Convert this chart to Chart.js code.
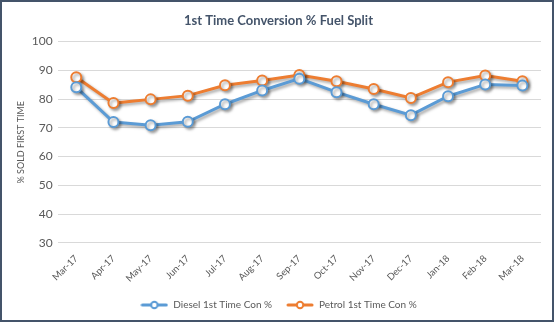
<!DOCTYPE html>
<html>
<head>
<meta charset="utf-8">
<script src="https://cdn.jsdelivr.net/npm/chart.js@4"></script>
<style>
  html, body { margin: 0; padding: 0; background: #fff; }
  #wrap {
    position: absolute; left: 0; top: 0;
    width: 554px; height: 322px;
    box-sizing: border-box;
    border: 2px solid #44546A;
  }
  canvas { display: block; }
</style>
</head>
<body>
<div id="wrap"><canvas id="chart" width="550" height="318"></canvas></div>
<script>
const months = ["Mar-17", "Apr-17", "May-17", "Jun-17", "Jul-17", "Aug-17", "Sep-17",
  "Oct-17", "Nov-17", "Dec-17", "Jan-18", "Feb-18", "Mar-18"];
const diesel = [84.1, 72.0, 70.9, 72.1, 78.2, 83.0, 87.1, 82.4, 78.2, 74.4, 81.0, 85.1, 84.7];
const petrol = [87.6, 78.6, 79.9, 81.2, 84.8, 86.5, 88.4, 86.2, 83.5, 80.4, 85.9, 88.2, 86.2];
const seriesNames = ["Diesel 1st Time Con %", "Petrol 1st Time Con %"];
const yTicks = [30, 40, 50, 60, 70, 80, 90, 100];

const blue = "#5B9BD5";
const orange = "#ED7D31";
const textColor = "#595959";
const fontFamily = "Lato, 'Open Sans', sans-serif";

// legend marker: short line with a hollow circle
function legendMarker(color) {
  const c = document.createElement("canvas");
  c.width = 28; c.height = 10;
  const g = c.getContext("2d");
  g.strokeStyle = color;
  g.lineWidth = 3;
  g.lineCap = "round";
  g.beginPath(); g.moveTo(2, 5); g.lineTo(26, 5); g.stroke();
  g.fillStyle = "#fff";
  g.lineWidth = 2;
  g.beginPath(); g.arc(14, 5, 3.2, 0, Math.PI * 2); g.fill(); g.stroke();
  return c;
}

const shadowPlugin = {
  id: "lineShadow",
  beforeDatasetDraw(chart) {
    const ctx = chart.ctx;
    ctx.save();
    ctx.shadowColor = "rgba(0,0,0,0.35)";
    ctx.shadowBlur = 3;
    ctx.shadowOffsetX = 2;
    ctx.shadowOffsetY = 2;
  },
  afterDatasetDraw(chart) {
    chart.ctx.restore();
  }
};

const markers = [legendMarker(blue), legendMarker(orange)];

new Chart(document.getElementById("chart"), {
  type: "line",
  data: {
    labels: months,
    datasets: [
      {
        label: seriesNames[0],
        data: diesel,
        borderColor: blue,
        backgroundColor: "#fff",
        borderWidth: 3,
        pointRadius: 5,
        pointBorderWidth: 2,
        pointBackgroundColor: "#fff",
        pointBorderColor: blue,
        tension: 0
      },
      {
        label: seriesNames[1],
        data: petrol,
        borderColor: orange,
        backgroundColor: "#fff",
        borderWidth: 3,
        pointRadius: 5,
        pointBorderWidth: 2,
        pointBackgroundColor: "#fff",
        pointBorderColor: orange,
        tension: 0
      }
    ]
  },
  options: {
    responsive: false,
    animation: false,
    layout: { padding: { left: 14, right: 11, top: 5, bottom: 0 } },
    plugins: {
      title: {
        display: true,
        text: "1st Time Conversion % Fuel Split",
        color: "#44546A",
        font: { family: fontFamily, size: 13, weight: "bold" },
        padding: { top: 6, bottom: 13 }
      },
      legend: {
        position: "bottom",
        labels: {
          color: textColor,
          font: { family: fontFamily, size: 10 },
          usePointStyle: true,
          pointStyleWidth: 28,
          padding: 14,
          generateLabels(chart) {
            return chart.data.datasets.map((ds, i) => ({
              text: ds.label,
              fontColor: textColor,
              pointStyle: markers[i],
              datasetIndex: i,
              hidden: false,
              lineWidth: 0
            }));
          }
        }
      },
      tooltip: { enabled: false }
    },
    scales: {
      x: {
        offset: true,
        grid: { display: false },
        border: { display: false },
        ticks: {
          color: textColor,
          font: { family: fontFamily, size: 9.5 },
          minRotation: 45,
          maxRotation: 45,
          padding: 2
        }
      },
      y: {
        min: 30,
        max: 100,
        afterBuildTicks(axis) {
          axis.ticks = yTicks.map(v => ({ value: v }));
        },
        grid: { color: "#D9D9D9", lineWidth: 1, drawTicks: false },
        border: { display: false },
        ticks: {
          color: textColor,
          font: { family: fontFamily, size: 12 },
          padding: 5
        },
        title: {
          display: true,
          text: "% SOLD FIRST TIME",
          color: textColor,
          font: { family: fontFamily, size: 9 },
          padding: { top: 0, bottom: 0 }
        }
      }
    }
  },
  plugins: [shadowPlugin]
});
</script>
</body>
</html>
